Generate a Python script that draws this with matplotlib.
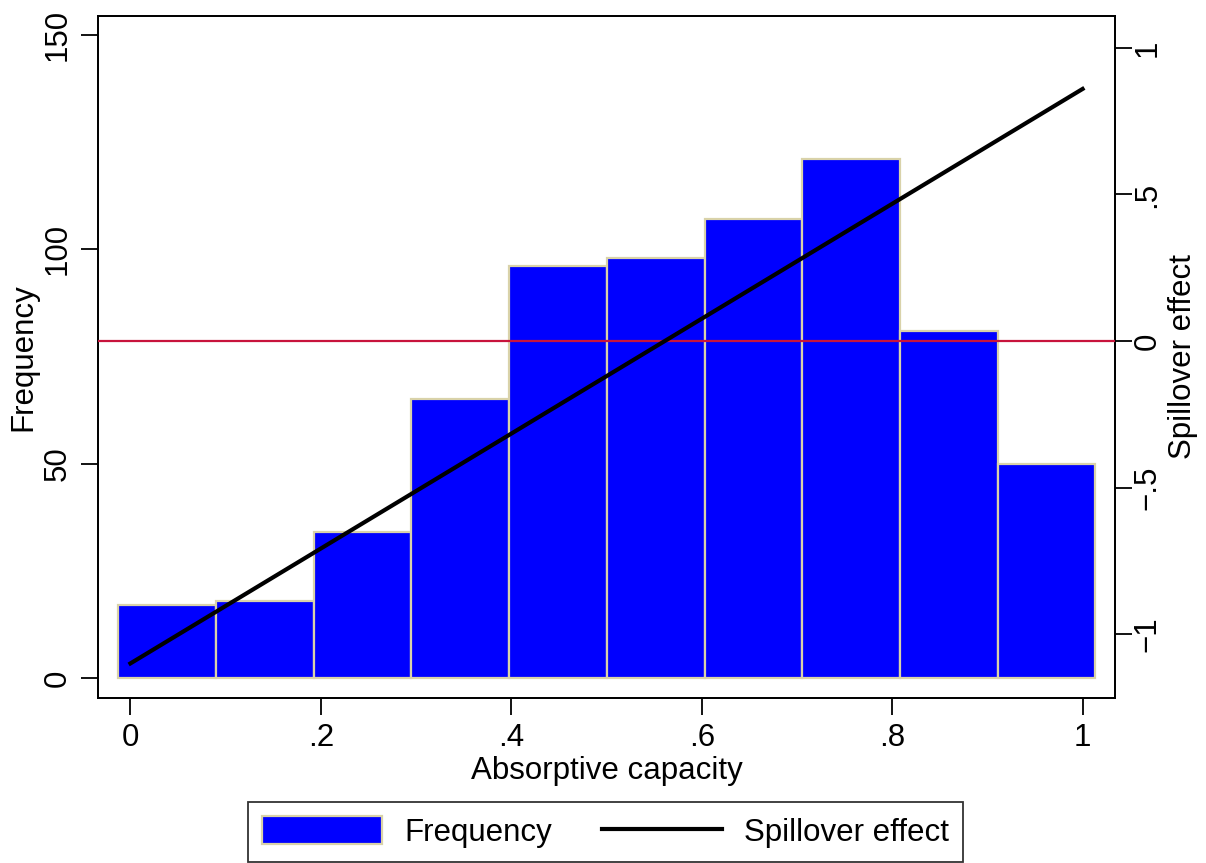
import matplotlib
matplotlib.use('Agg')
import matplotlib.pyplot as plt
from matplotlib.patches import Patch
from matplotlib.lines import Line2D

plt.rcParams['font.family'] = ['Liberation Sans', 'DejaVu Sans']

# histogram of absorptive capacity
bin_start = -0.0126
bin_width = 0.1026
freq = [17, 18, 34, 65, 96, 98, 107, 121, 81, 50]

# fitted spillover effect line
spill_x = [0, 1]
spill_y = [-1.1, 0.86]

x_ticks = [0, 0.2, 0.4, 0.6, 0.8, 1]
x_labels = ['0', '.2', '.4', '.6', '.8', '1']
freq_ticks = [0, 50, 100, 150]
spill_ticks = [-1, -0.5, 0, 0.5, 1]
spill_labels = ['\u22121', '\u2212.5', '0', '.5', '1']

fs = 22.5

fig = plt.figure(figsize=(12.06, 8.63), dpi=100)
ax = fig.add_axes([0.0813, 0.1912, 0.9245 - 0.0813, 0.9815 - 0.1912])

lefts = [bin_start + i * bin_width for i in range(len(freq))]
ax.bar(lefts, freq, width=bin_width, align='edge', color='#0000ff',
       edgecolor='#d9d2a9', linewidth=1.6, zorder=2)
ax.set_xlim(-0.034, 1.034)
ax.set_ylim(-4.67, 154.4)
ax.set_xticks(x_ticks)
ax.set_xticklabels(x_labels)
ax.set_yticks(freq_ticks)
ax.set_yticklabels([str(t) for t in freq_ticks], rotation=90, va='center')
ax.set_xlabel('Absorptive capacity', fontsize=fs, labelpad=2)
ax.set_ylabel('Frequency', fontsize=fs, labelpad=3.5)
ax.tick_params(axis='both', labelsize=fs, length=12, width=1.3, direction='out')
ax.tick_params(axis='y', pad=6)
ax.tick_params(axis='x', pad=6)

ax2 = ax.twinx()
ax2.axhline(0, color='#c8143c', linewidth=1.6, zorder=3)
ax2.plot(spill_x, spill_y, color='black', linewidth=3.0, zorder=4)
ax2.set_ylim(-1.218, 1.109)
ax2.set_yticks(spill_ticks)
ax2.set_yticklabels(spill_labels, rotation=90, va='center')
ax2.set_ylabel('Spillover effect', fontsize=fs, labelpad=4)
ax2.tick_params(axis='y', labelsize=fs, length=12, width=1.3, direction='out', pad=0.5)

for a in (ax, ax2):
    for s in a.spines.values():
        s.set_linewidth(1.3)

handles = [Patch(facecolor='#0000ff', edgecolor='#d9d2a9', linewidth=1.6),
           Line2D([0], [0], color='black', linewidth=3.0)]
leg = fig.legend(handles, ['Frequency', 'Spillover effect'], loc='center',
                 bbox_to_anchor=(605.5 / 1206, 1 - 832 / 863), ncol=2,
                 fontsize=fs, frameon=True, fancybox=False, edgecolor='black',
                 handlelength=3.85, handleheight=1.0, handletextpad=0.7,
                 columnspacing=1.6, borderpad=0.45, borderaxespad=0)
leg.get_frame().set_linewidth(1.3)

fig.savefig('out.png', dpi=100)
